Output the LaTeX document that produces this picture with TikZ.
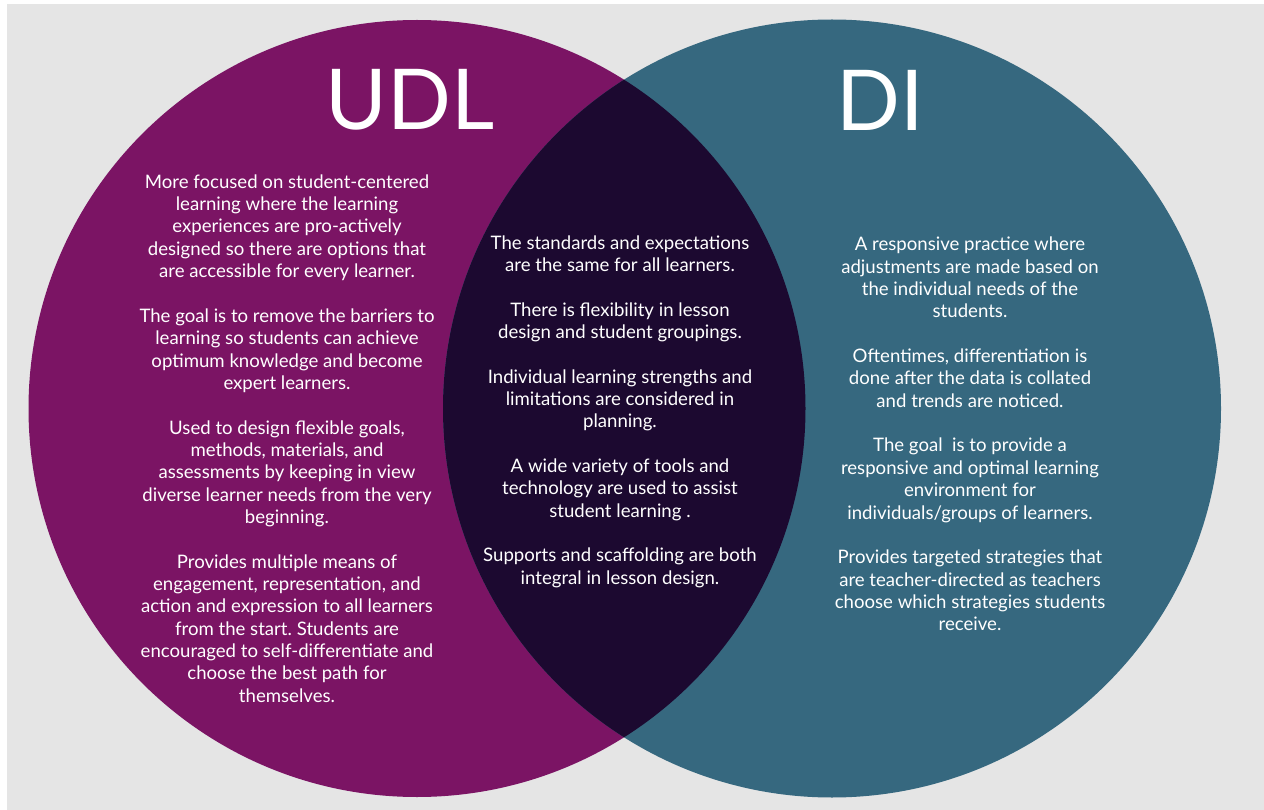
\documentclass[tikz,border=0pt]{standalone}
\usepackage{fontspec}
\setmainfont{Lato}
\frenchspacing
\definecolor{bgray}{RGB}{229,229,229}
\definecolor{udl}{RGB}{123,20,100}
\definecolor{dicol}{RGB}{54,104,127}
\definecolor{both}{RGB}{28,9,48}
\begin{document}
\begin{tikzpicture}[x=1pt,y=-1pt,
  body/.style={text=white, align=center, font=\fontsize{18.6}{22.35}\selectfont, inner sep=0pt},
  title/.style={text=white, font=\fontsize{84}{84}\selectfont, inner sep=0pt}]
\useasboundingbox (0,0) rectangle (1264,810);
\fill[white] (0,0) rectangle (1264,810);
\fill[bgray] (7,4) rectangle (1264,810);
\fill[udl] (417,408.5) circle[radius=388.5];
\fill[dicol] (832,408.5) circle[radius=389];
\begin{scope}
\clip (417,408.5) circle[radius=388.5];
\fill[both] (832,408.5) circle[radius=389];
\end{scope}
\node[title] (udlt) at (410,100) {UDL};
\node[title] (dit) at (880,100) {DI};
\node[body] (left) at (287,438.5) {More focused on student-centered\\
learning where the learning\\
experiences are pro-actively\\
designed so there are options that\\
are accessible for every learner.\\[22.35pt]
The goal is to remove the barriers to\\
learning so students can achieve\\
optimum knowledge and become\\
expert learners.\\[22.35pt]
Used to design flexible goals,\\
methods, materials, and\\
assessments by keeping in view\\
diverse learner needs from the very\\
beginning.\\[22.35pt]
Provides multiple means of\\
engagement, representation, and\\
action and expression to all learners\\
from the start. Students are\\
encouraged to self-differentiate and\\
choose the best path for\\
themselves.};
\node[body] (mid) at (620,411.5) {The standards and expectations\\
are the same for all learners.\\[22.35pt]
There is flexibility in lesson\\
design and student groupings.\\[22.35pt]
Individual learning strengths and\\
limitations are considered in\\
planning.\\[22.35pt]
A wide variety of tools and\\
technology are used to assist\\
student learning .\\[22.35pt]
Supports and scaffolding are both\\
integral in lesson design.};
\node[body] (right) at (970,434) {A responsive practice where\\
adjustments are made based on\\
the individual needs of the\\
students.\\[22.35pt]
Oftentimes, differentiation is\\
done after the data is collated\\
and trends are noticed.\\[22.35pt]
The goal\ \ is to provide a\\
responsive and optimal learning\\
environment for\\
individuals/groups of learners.\\[22.35pt]
Provides targeted strategies that\\
are teacher-directed as teachers\\
choose which strategies students\\
receive.};
\end{tikzpicture}
\end{document}
